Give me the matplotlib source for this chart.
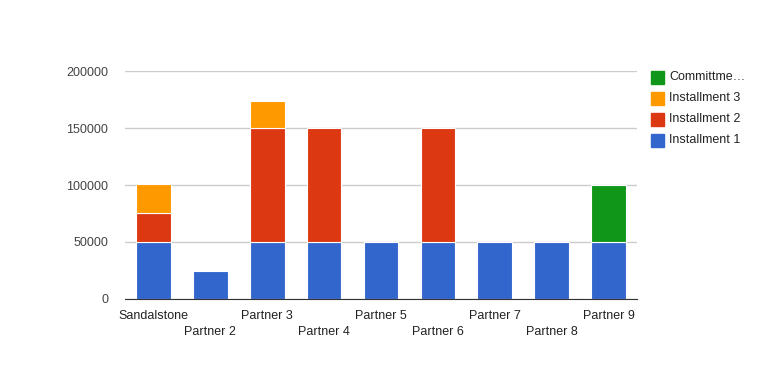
import matplotlib.pyplot as plt
import matplotlib.patches as mpatches
import numpy as np

plt.rcParams['font.family'] = ['Liberation Sans', 'DejaVu Sans']

socios = ["Sandalstone", "Partner 2", "Partner 3", "Partner 4", "Partner 5",
          "Partner 6", "Partner 7", "Partner 8", "Partner 9"]
installment_1 = [50000, 24000, 50000, 50000, 50000, 50000, 50000, 50000, 50000]
installment_2 = [25000, 0, 100000, 100000, 0, 100000, 0, 0, 0]
installment_3 = [26000, 0, 24000, 0, 0, 0, 0, 0, 0]
committment = [0, 0, 0, 0, 0, 0, 0, 0, 50000]

series = [("Installment 1", installment_1, "#3366cc"),
          ("Installment 2", installment_2, "#dc3912"),
          ("Installment 3", installment_3, "#ff9900"),
          ("Committme…", committment, "#109618")]

fig = plt.figure(figsize=(7.63, 3.71), dpi=100)
ax = fig.add_axes([125 / 763, 1 - 298.7 / 371, 512 / 763, 227.4 / 371])

x = np.arange(len(socios))
base = np.zeros(len(socios))
for nombre, valores, color in series:
    valores = np.array(valores, dtype=float)
    mask = valores > 0
    ax.bar(x[mask], valores[mask], bottom=base[mask], width=0.61, color=color,
           edgecolor="white", linewidth=0.8, zorder=3)
    base += valores

ax.set_xlim(-0.5, len(socios) - 0.5)
ax.set_ylim(0, 200000)
ax.set_yticks([0, 50000, 100000, 150000, 200000])
ax.set_yticklabels(["0", "50000", "100000", "150000", "200000"])
ax.grid(axis="y", color="#cccccc", linewidth=1, zorder=0)
for lado in ["top", "right", "left"]:
    ax.spines[lado].set_visible(False)
ax.spines["bottom"].set_color("#333333")
ax.spines["bottom"].set_zorder(4)
ax.tick_params(axis="y", length=0, pad=12, labelsize=9, labelcolor="#444444")
ax.tick_params(axis="x", length=0)
ax.set_xticks([])

# etiquetas alternadas
for i, nombre in enumerate(socios):
    desplaz = -7.8 if i % 2 == 0 else -20
    ax.annotate(nombre, (i, 0), xytext=(0, desplaz), textcoords="offset points",
                ha="center", va="top", fontsize=9, color="#222222",
                annotation_clip=False)

# leyenda manual
leyenda = [("Committme…", "#109618"), ("Installment 3", "#ff9900"),
           ("Installment 2", "#dc3912"), ("Installment 1", "#3366cc")]
for k, (texto, color) in enumerate(leyenda):
    yc = 77 + k * 21
    fig.add_artist(mpatches.Rectangle((651 / 763, 1 - (yc + 6.5) / 371), 13 / 763, 13 / 371,
                                      transform=fig.transFigure, color=color))
    fig.text(669 / 763, 1 - yc / 371, texto, ha="left", va="center",
             fontsize=9, color="#222222")

fig.savefig("out.png", dpi=100)
